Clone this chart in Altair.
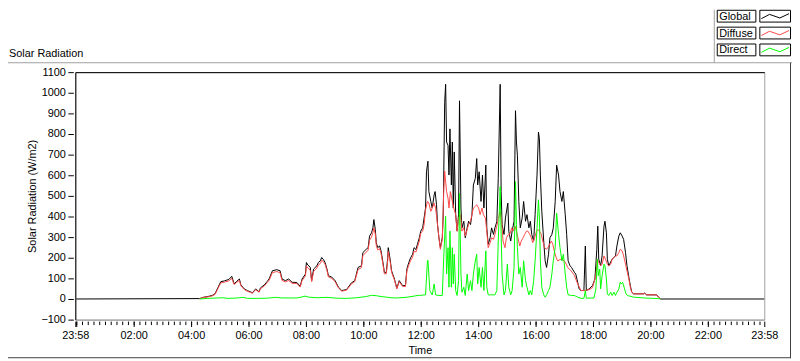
import altair as alt
import pandas as pd

FONT = "Liberation Sans"
series_names = ["Global", "Diffuse", "Direct"]
series_colors = ["#000000", "#FF4848", "#00FF00"]

global_times = ["00:00","04:18","04:25","04:35","04:44","04:50","04:56","05:02","05:10","05:19","05:25","05:30","05:35","05:41","05:44","05:51","05:58","06:04","06:08","06:15","06:22","06:25","06:33","06:39","06:43","06:50","06:59","07:06","07:10","07:17","07:24","07:31","07:41","07:48","07:52","07:59","08:01","08:04","08:09","08:12","08:16","08:23","08:26","08:30","08:33","08:37","08:40","08:44","08:47","08:54","09:01","09:08","09:15","09:25","09:35","09:42","09:49","09:56","09:59","10:06","10:10","10:13","10:17","10:20","10:22","10:25","10:27","10:30","10:34","10:37","10:41","10:44","10:48","10:51","10:52","10:56","10:59","11:05","11:10","11:15","11:22","11:28","11:31","11:35","11:39","11:43","11:46","11:50","11:53","11:57","12:00","12:04","12:07","12:10","12:12","12:15","12:17","12:21","12:24","12:28","12:30","12:33","12:35","12:38","12:41","12:45","12:47","12:50","12:52","12:54","12:57","12:59","13:01","13:04","13:06","13:08","13:10","13:13","13:16","13:19","13:21","13:24","13:26","13:30","13:33","13:37","13:40","13:44","13:47","13:50","13:54","13:57","13:59","14:02","14:06","14:09","14:12","14:16","14:18","14:21","14:25","14:28","14:32","14:35","14:39","14:42","14:46","14:48","14:50","14:54","14:57","15:02","15:04","15:08","15:11","15:15","15:18","15:20","15:22","15:25","15:28","15:32","15:35","15:39","15:42","15:46","15:49","15:52","15:56","15:59","16:03","16:06","16:08","16:10","16:13","16:17","16:20","16:23","16:27","16:30","16:34","16:37","16:41","16:44","16:48","16:51","16:55","16:58","17:02","17:05","17:08","17:12","17:15","17:21","17:24","17:28","17:31","17:35","17:41","17:44","17:46","17:52","17:59","18:04","18:08","18:10","18:12","18:16","18:19","18:23","18:25","18:28","18:30","18:33","18:40","18:47","18:50","18:54","18:57","19:01","19:04","19:08","19:11","19:15","19:18","19:21","19:25","19:46","19:48","19:52","20:13","20:17","20:21","23:58"]
global_values = [0,2,8,12,17,25,55,84,88,95,110,73,85,97,68,49,40,35,30,49,35,54,68,85,97,137,142,137,97,89,97,81,80,62,97,121,177,165,154,89,145,161,177,185,201,190,177,145,113,106,89,57,41,46,78,89,153,161,225,241,249,305,321,345,385,337,273,249,257,233,177,129,129,201,249,193,137,97,52,89,65,65,145,177,201,217,249,240,265,297,329,345,393,441,617,668,521,473,441,505,521,457,361,297,249,297,409,953,1041,761,745,601,825,553,761,441,713,409,329,409,961,441,345,377,297,345,377,361,409,553,585,681,553,617,473,601,441,649,345,265,297,345,313,345,375,585,1041,521,361,313,393,465,329,281,329,377,913,761,697,473,345,393,473,377,409,345,377,313,281,409,601,809,777,601,425,281,185,153,217,297,313,345,473,649,601,521,473,521,409,313,185,161,153,130,121,81,49,41,41,257,41,49,65,97,241,353,193,161,209,353,377,321,193,161,193,209,257,305,321,305,289,225,161,105,65,33,25,25,29,20,20,9,0,0]

diffuse_times = ["04:18","04:25","04:35","04:44","04:50","04:56","05:02","05:10","05:19","05:25","05:30","05:35","05:41","05:44","05:51","05:58","06:04","06:08","06:15","06:22","06:25","06:33","06:39","06:43","06:50","06:59","07:06","07:10","07:17","07:24","07:31","07:41","07:48","07:52","07:59","08:01","08:04","08:09","08:12","08:16","08:23","08:26","08:30","08:33","08:37","08:40","08:44","08:47","08:54","09:01","09:08","09:15","09:25","09:35","09:42","09:49","09:56","09:59","10:06","10:10","10:13","10:17","10:20","10:22","10:25","10:27","10:30","10:34","10:37","10:41","10:44","10:48","10:51","10:52","10:56","10:59","11:05","11:10","11:15","11:22","11:28","11:31","11:35","11:39","11:43","11:46","11:50","11:53","11:57","12:00","12:04","12:07","12:10","12:14","12:17","12:21","12:24","12:28","12:31","12:35","12:38","12:41","12:45","12:48","12:50","12:54","12:57","12:59","13:02","13:06","13:09","13:13","13:16","13:19","13:23","13:26","13:30","13:33","13:37","13:40","13:44","13:47","13:50","13:54","13:57","14:01","14:04","14:08","14:11","14:15","14:18","14:21","14:25","14:28","14:32","14:35","14:39","14:42","14:46","14:49","14:52","14:56","14:59","15:03","15:06","15:10","15:13","15:17","15:20","15:23","15:27","15:30","15:34","15:37","15:41","15:44","15:48","15:51","15:54","15:58","16:02","16:05","16:08","16:12","16:15","16:19","16:22","16:26","16:29","16:33","16:36","16:39","16:43","16:46","16:53","17:00","17:04","17:07","17:14","17:21","17:28","17:35","17:41","17:52","17:59","18:06","18:09","18:12","18:16","18:19","18:23","18:26","18:30","18:33","18:37","18:40","18:44","18:47","18:50","18:54","18:57","19:01","19:04","19:08","19:11","19:15","19:18","19:21","19:25","19:46","19:48","19:52","20:13","20:17","20:21"]
diffuse_values = [2,7,10,15,22,50,78,82,88,100,70,80,90,64,46,37,32,28,45,33,50,63,80,90,128,133,128,90,83,90,76,75,58,90,112,160,150,140,84,133,150,165,172,188,180,168,138,107,100,84,53,38,43,73,84,143,152,210,228,236,285,300,322,345,315,260,238,244,222,168,122,122,188,230,182,130,92,49,84,61,61,136,165,188,203,232,228,250,281,320,329,361,433,473,465,425,441,465,441,361,297,241,289,520,620,521,489,441,521,473,441,409,329,393,409,329,345,305,337,361,377,409,441,449,457,441,409,441,409,393,329,249,273,297,289,313,355,390,425,377,281,249,297,313,313,345,329,353,329,297,257,281,297,313,329,329,313,297,273,297,329,337,329,313,281,249,241,249,265,281,265,233,201,185,193,185,169,153,137,115,73,41,41,45,55,113,193,177,161,169,209,193,169,161,169,193,201,209,209,225,241,233,209,169,137,97,57,33,25,25,29,20,20,9,0]

direct_times = ["04:18","04:35","04:56","05:06","05:17","05:37","05:48","05:58","06:19","06:39","06:56","07:10","07:41","07:52","07:58","08:06","08:23","08:44","09:04","09:25","09:46","10:06","10:17","10:27","10:37","10:48","10:58","11:08","11:29","11:46","11:56","12:00","12:07","12:10","12:14","12:15","12:19","12:24","12:28","12:31","12:38","12:45","12:48","12:52","12:54","12:57","12:59","13:01","13:04","13:06","13:08","13:10","13:13","13:16","13:19","13:21","13:24","13:26","13:30","13:33","13:37","13:40","13:44","13:47","13:50","13:54","13:57","13:59","14:02","14:06","14:09","14:12","14:16","14:18","14:21","14:28","14:35","14:39","14:42","14:46","14:48","14:50","14:54","14:57","15:01","15:04","15:08","15:11","15:15","15:18","15:20","15:22","15:25","15:28","15:32","15:35","15:39","15:42","15:46","15:49","15:52","15:56","15:59","16:03","16:06","16:08","16:10","16:13","16:17","16:20","16:23","16:27","16:30","16:34","16:37","16:41","16:44","16:48","16:51","16:55","16:58","17:02","17:05","17:08","17:15","17:21","17:28","17:35","17:41","17:44","17:46","18:02","18:06","18:09","18:11","18:14","18:16","18:19","18:23","18:25","18:28","18:30","18:33","18:37","18:40","18:44","18:47","18:50","18:54","18:57","18:59","19:02","19:06","19:09","19:12","19:25","19:46","20:17","20:21"]
direct_values = [0,3,5,6,3,5,8,3,3,4,8,5,5,10,14,9,6,8,4,3,6,12,18,16,12,9,6,5,8,14,18,17,20,20,185,188,41,20,73,20,17,17,201,401,121,249,57,329,57,249,73,217,41,17,89,513,121,33,57,17,121,41,89,41,121,185,217,73,153,57,153,41,233,57,20,20,20,41,281,545,313,121,20,41,169,57,20,41,153,569,361,249,121,153,57,185,89,57,20,41,20,89,185,345,481,393,185,57,20,9,20,41,57,121,185,249,417,313,249,185,217,121,57,20,17,17,9,3,3,41,4,5,49,193,113,145,49,113,169,161,97,25,17,33,17,33,17,33,49,81,73,81,49,25,17,9,5,2,0]

for t, v in [(global_times, global_values), (diffuse_times, diffuse_values), (direct_times, direct_values)]:
    assert len(t) == len(v), (len(t), len(v))

y_ticks = list(range(-100, 1101, 100))
day_start, day_end = -2, 1438          # 23:58 of the previous day -> 23:58
major_ticks = [day_start] + list(range(0, 1440, 120)) + [day_end]
minor_ticks = list(range(0, 1440, 12))


def to_minutes(t):
    h, m = t.split(":")
    return int(h) * 60 + int(m)


def frame(name, times, values):
    return pd.DataFrame({"series": name,
                         "minute": [to_minutes(t) for t in times],
                         "value": values})


x_scale = alt.Scale(domain=[day_start, day_end], nice=False, zero=False)
y_scale = alt.Scale(domain=[-100, 1100], nice=False, zero=False)
color_scale = alt.Scale(domain=series_names, range=series_colors)

label_expr = ("datum.value == -2 || datum.value == 1438 ? '23:58' : "
              "(datum.value > 0 ? "
              "(floor(datum.value / 60) < 10 ? '0' : '') + floor(datum.value / 60) + ':00' : '')")

bottom_axis = alt.Axis(orient="bottom", values=major_ticks, labelExpr=label_expr,
                       ticks=True, tickSize=7, tickOpacity=0,
                       domainColor="#A0A0A0", labelColor="black",
                       labelFont=FONT, labelFontSize=11, labelPadding=3,
                       labelOverlap=False, labelFlush=False, grid=False,
                       title="Time", titleFont=FONT, titleFontSize=11,
                       titleFontWeight="normal", titleColor="black",
                       titleX=348, titleY=31, titleBaseline="middle")
top_axis = alt.Axis(orient="top", ticks=False, labels=False, title=None,
                    domainColor="black", grid=False)
left_axis = alt.Axis(orient="left", values=y_ticks, format="d", ticks=True,
                     tickSize=5, tickOpacity=0, labelPadding=5,
                     domainColor="black", labelColor="black",
                     labelFont=FONT, labelFontSize=11, grid=False,
                     title="Solar Radiation (W/m2)", titleFont=FONT, titleFontSize=11,
                     titleFontWeight="normal", titleColor="black",
                     titleX=-43, titleY=125, titleBaseline="middle")


def line_layer(name, times, values, xaxis, yaxis):
    return alt.Chart(frame(name, times, values)).mark_line(strokeWidth=1).encode(
        x=alt.X("minute:Q", scale=x_scale, axis=xaxis),
        y=alt.Y("value:Q", scale=y_scale, axis=yaxis),
        color=alt.Color("series:N", scale=color_scale, legend=None),
    )


# tick marks drawn through the shared scales from the axis tick lists
x_major_marks = alt.Chart(pd.DataFrame({"tick": major_ticks})).mark_rule(
    color="black", strokeWidth=1, xOffset=0.5).encode(
    x=alt.X("tick:Q", scale=x_scale, axis=None), y=alt.value(252), y2=alt.value(257.5))
x_minor_marks = alt.Chart(pd.DataFrame({"tick": minor_ticks})).mark_rule(
    color="black", strokeWidth=1, xOffset=0.5).encode(
    x=alt.X("tick:Q", scale=x_scale, axis=None), y=alt.value(252), y2=alt.value(255.5))
y_tick_marks = alt.Chart(pd.DataFrame({"tick": y_ticks})).mark_rule(
    color="black", strokeWidth=1, yOffset=0.5).encode(
    y=alt.Y("tick:Q", scale=y_scale, axis=None), x=alt.value(-7), x2=alt.value(-1.5))

lines = alt.layer(
    line_layer("Global", global_times, global_values, bottom_axis, left_axis),
    line_layer("Diffuse", diffuse_times, diffuse_values, top_axis, None),
    line_layer("Direct", direct_times, direct_values, None, None),
    x_major_marks, x_minor_marks, y_tick_marks,
).resolve_axis(x="independent", y="independent")

# ---- custom legend (label box + line sample box per series) ----
legend_df = pd.DataFrame({"series": series_names})
legend_y = alt.Y("series:N", sort=series_names, axis=None,
                 scale=alt.Scale(type="band", domain=series_names, range=[-62.5, -16.5],
                                 paddingInner=0.3, paddingOuter=0))
legend_base = alt.Chart(legend_df)
label_boxes = legend_base.mark_rect(fill="white", stroke="black", strokeWidth=1).encode(
    x=alt.value(648.5), x2=alt.value(687.5), y=legend_y)
symbol_boxes = legend_base.mark_rect(fill="white", stroke="black", strokeWidth=1).encode(
    x=alt.value(691.5), x2=alt.value(722.5), y=legend_y)
label_texts = legend_base.mark_text(align="left", baseline="middle", font=FONT,
                                    fontSize=11, color="black", dy=0.5).encode(
    x=alt.value(650.5), y=legend_y, text="series:N")
zigzag = "M-1,0.18L-0.41,-0.13L0.34,0.13L1,-0.18"
symbols = legend_base.mark_point(shape=zigzag, size=784, filled=False, strokeWidth=1,
                                 opacity=1).encode(
    x=alt.value(707), y=legend_y,
    color=alt.Color("series:N", scale=color_scale, legend=None))

# ---- frame lines and the panel caption ----
one = pd.DataFrame({"k": [0]})
caption = alt.Chart(pd.DataFrame({"caption": ["Solar Radiation"]})).mark_text(
    align="left", baseline="middle", font=FONT, fontSize=11, color="black").encode(
    x=alt.value(-67), y=alt.value(-18.5), text="caption:N")
frame_top = alt.Chart(one).mark_rule(color="#A0A0A0", strokeWidth=1).encode(
    x=alt.value(-68), x2=alt.value(724), y=alt.value(-9.5))
legend_left = alt.Chart(one).mark_rule(color="#A0A0A0", strokeWidth=1).encode(
    x=alt.value(645.5), y=alt.value(-63), y2=alt.value(-9.5))
frame_bottom = alt.Chart(one).mark_rule(color="#404040", strokeWidth=1).encode(
    x=alt.value(-68), x2=alt.value(723), y=alt.value(288.5))
frame_right = alt.Chart(one).mark_rule(color="#404040", strokeWidth=1).encode(
    x=alt.value(722.5), y=alt.value(-9.5), y2=alt.value(289))

chart = alt.layer(
    lines, label_boxes, symbol_boxes, label_texts, symbols,
    caption, frame_top, legend_left, frame_bottom, frame_right,
).resolve_scale(y="independent").properties(
    width=696, height=250,
    autosize=alt.AutoSizeParams(type="none"),
    padding={"left": 68, "top": 63, "right": 28, "bottom": 40},
    background="white",
).configure_view(stroke="#A0A0A0", strokeWidth=1)

chart.save("out.html", embed_options={"renderer": "svg", "actions": False})
